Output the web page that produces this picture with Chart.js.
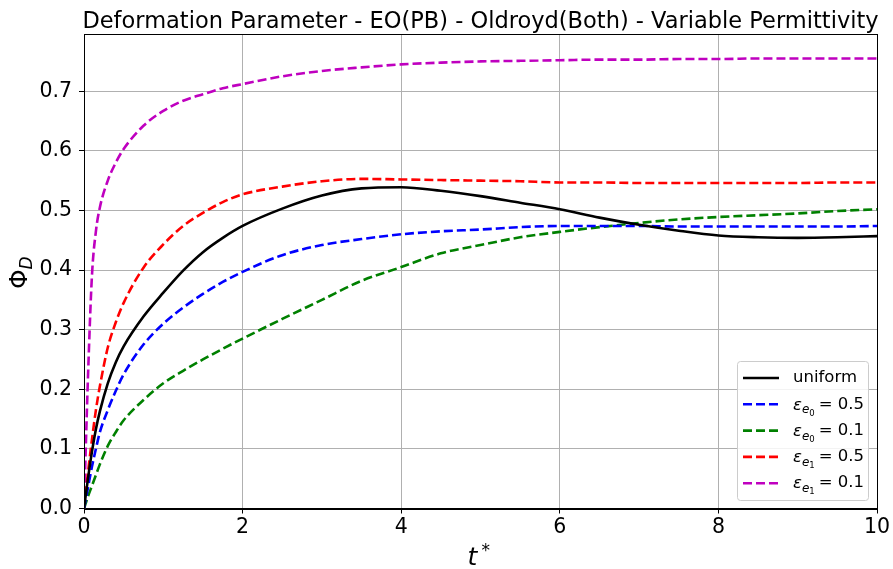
<!DOCTYPE html>
<html><head><meta charset="utf-8">
<script src="https://cdn.jsdelivr.net/npm/chart.js@4"></script>
<style>html,body{margin:0;padding:0;background:#fff}#wrap{width:893px;height:569px}</style>
</head><body><div id="wrap"><canvas id="c" width="893" height="569"></canvas></div>
<script>
const tValues = [0,0.05,0.1,0.15,0.2,0.3,0.4,0.5,0.75,1,1.25,1.5,1.75,2,2.5,3,3.5,4,4.5,5,5.5,6,6.5,7,7.5,8,8.5,9,9.5,10];
const uniform  = [0,0.05,0.095,0.133,0.163,0.21,0.245,0.272,0.322,0.362,0.399,0.43,0.454,0.474,0.503,0.525,0.537,0.539,0.533,0.524,0.513,0.502,0.488,0.476,0.466,0.458,0.455,0.454,0.455,0.457];
const epsE0_05 = [0,0.035,0.07,0.1,0.128,0.165,0.197,0.225,0.275,0.31,0.337,0.36,0.38,0.397,0.425,0.442,0.452,0.46,0.465,0.468,0.472,0.474,0.474,0.474,0.473,0.473,0.473,0.473,0.473,0.474];
const epsE0_01 = [0,0.02,0.038,0.056,0.074,0.105,0.128,0.148,0.182,0.21,0.231,0.25,0.268,0.285,0.318,0.35,0.382,0.405,0.428,0.442,0.455,0.464,0.472,0.479,0.485,0.489,0.492,0.495,0.499,0.502];
const epsE1_05 = [0,0.06,0.115,0.165,0.205,0.27,0.312,0.345,0.404,0.443,0.474,0.496,0.514,0.527,0.54,0.549,0.553,0.552,0.551,0.55,0.549,0.547,0.547,0.546,0.546,0.546,0.546,0.546,0.547,0.547];
const epsE1_01 = [0,0.22,0.39,0.465,0.505,0.55,0.58,0.603,0.642,0.667,0.684,0.695,0.705,0.712,0.725,0.734,0.74,0.745,0.748,0.75,0.751,0.752,0.753,0.753,0.754,0.754,0.755,0.755,0.755,0.755];
const xTicks = [0,2,4,6,8,10];
const yTicks = [0,0.1,0.2,0.3,0.4,0.5,0.6,0.7];
const seriesNames = ['uniform','e0|0.5','e0|0.1','e1|0.5','e1|0.1'];
const titleText = 'Deformation Parameter - EO(PB) - Oldroyd(Both) - Variable Permittivity';

const FONT = "'DejaVu Sans', sans-serif";
const pts = arr => tValues.map((t,i)=>({x:t,y:arr[i]}));
const mk = (arr,color,dash,name) => ({label:name,data:pts(arr),borderColor:color,backgroundColor:color,borderWidth:2.6,borderDash:dash,pointRadius:0,cubicInterpolationMode:'monotone',fill:false});

const datasets = [
  mk(uniform,'#000000',[],seriesNames[0]),
  mk(epsE0_05,'#0000ff',[9,4],seriesNames[1]),
  mk(epsE0_01,'#008000',[9,4],seriesNames[2]),
  mk(epsE1_05,'#ff0000',[9,4],seriesNames[3]),
  mk(epsE1_01,'#bf00bf',[9,4],seriesNames[4])
];

const deco = {
  id:'deco',
  afterDraw(chart){
    const ctx = chart.ctx, a = chart.chartArea;
    ctx.save();
    ctx.strokeStyle='#000'; ctx.lineWidth=1; ctx.setLineDash([]);
    ctx.strokeRect(Math.round(a.left)+0.5,Math.round(a.top)+0.5,Math.round(a.right-a.left),Math.round(a.bottom-a.top));
    ctx.fillStyle='#000';
    ctx.textAlign='center'; ctx.textBaseline='alphabetic';
    ctx.font="22.5px "+FONT;
    ctx.fillText(titleText,(a.left+a.right)/2,27.5);
    ctx.font="italic 25px "+FONT;
    const tx = (a.left+a.right)/2;
    ctx.textAlign='left';
    const tw = ctx.measureText('t').width;
    ctx.fillText('t', tx-tw/2-8, 565);
    ctx.font="17px "+FONT;
    ctx.fillText('*', tx+tw/2-4, 556);
    ctx.save();
    ctx.translate(27,(a.top+a.bottom)/2);
    ctx.rotate(-Math.PI/2);
    ctx.font="25px "+FONT;
    const pw = ctx.measureText('\u03A6').width;
    ctx.fillText('\u03A6', -pw/2-8, 0);
    ctx.font="italic 17px "+FONT;
    ctx.fillText('D', pw/2-8, 5);
    ctx.restore();
    const lx=737, ly=361, lw=131, lh=139;
    ctx.fillStyle='rgba(255,255,255,0.85)';
    ctx.strokeStyle='#cccccc'; ctx.lineWidth=1;
    ctx.beginPath();
    if (ctx.roundRect) ctx.roundRect(lx+0.5,ly+0.5,lw,lh,3); else ctx.rect(lx+0.5,ly+0.5,lw,lh);
    ctx.fill(); ctx.stroke();
    chart.data.datasets.forEach((ds,i)=>{
      const y = ly+17+i*26.3;
      ctx.strokeStyle=ds.borderColor; ctx.lineWidth=2.6; ctx.setLineDash(ds.borderDash);
      ctx.beginPath(); ctx.moveTo(743,y); ctx.lineTo(779,y); ctx.stroke();
      ctx.setLineDash([]);
      ctx.fillStyle='#000'; ctx.textBaseline='middle'; ctx.textAlign='left';
      const name = ds.label;
      if (name==='uniform'){
        ctx.font="16.5px "+FONT; ctx.fillText('uniform',793,y);
      } else {
        const [sub,val] = name.split('|');
        let x=793;
        ctx.font="italic 16.5px "+FONT; ctx.fillText('\u03B5',x,y+1); x+=ctx.measureText('\u03B5').width;
        ctx.font="italic 12px "+FONT; ctx.fillText('e',x,y+6); x+=ctx.measureText('e').width;
        ctx.font="8.5px "+FONT; ctx.fillText(sub.slice(1),x,y+9); x+=ctx.measureText(sub.slice(1)).width+4;
        ctx.font="16.5px "+FONT; ctx.fillText('= '+val,x,y);
      }
    });
    ctx.restore();
  }
};

new Chart(document.getElementById('c'),{
  type:'line',
  data:{datasets},
  plugins:[deco],
  options:{
    responsive:false,animation:false,
    layout:{padding:{left:0,right:16,top:34,bottom:0}},
    plugins:{legend:{display:false},tooltip:{enabled:false},title:{display:false}},
    scales:{
      x:{type:'linear',min:0,max:10,
        afterBuildTicks(s){s.ticks=xTicks.map(v=>({value:v}));},
        afterFit(s){s.height=60.5;},
        grid:{color:'#b0b0b0',lineWidth:1,drawTicks:true,tickLength:5,tickColor:'#000'},
        border:{display:true,color:'#000'},
        ticks:{color:'#000',font:{family:FONT,size:20.5},padding:2,maxRotation:0,callback:v=>String(v)}
      },
      y:{type:'linear',min:0,max:0.796,
        afterBuildTicks(s){s.ticks=yTicks.map(v=>({value:v}));},
        afterFit(s){s.width=84;},
        grid:{color:'#b0b0b0',lineWidth:1,drawTicks:true,tickLength:5,tickColor:'#000'},
        border:{display:true,color:'#000'},
        ticks:{color:'#000',font:{family:FONT,size:20.5},padding:7,callback:v=>v.toFixed(1)}
      }
    }
  }
});
</script></body></html>
